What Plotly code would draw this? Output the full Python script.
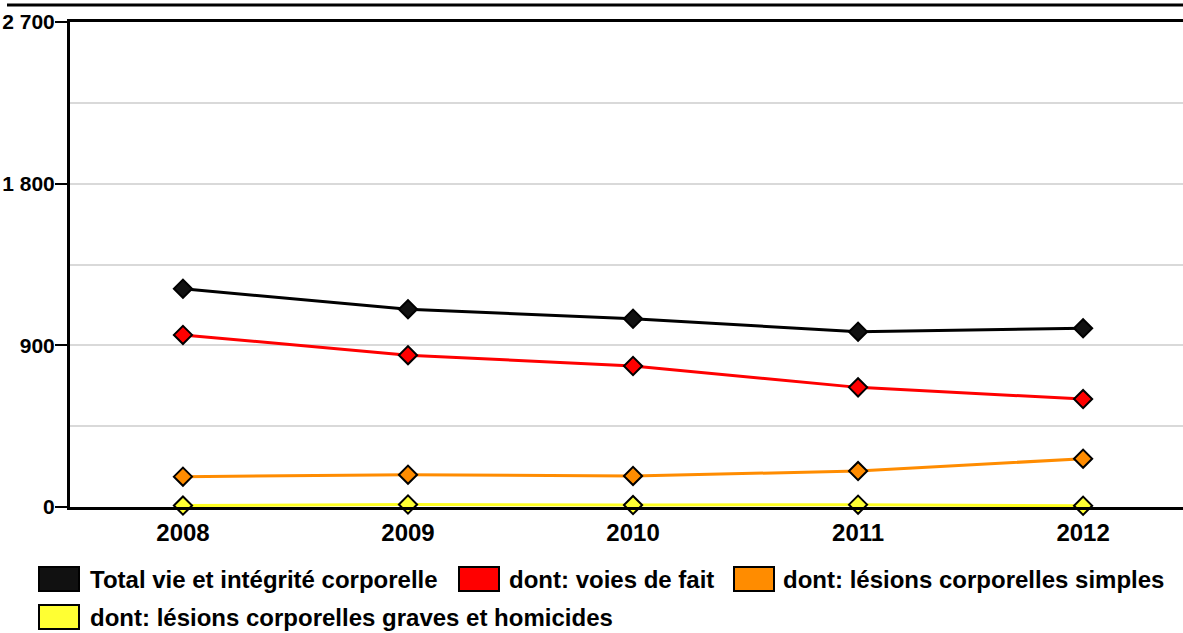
import plotly.graph_objects as go

years = [2008, 2009, 2010, 2011, 2012]
series_names = [
    "Total vie et intégrité corporelle",
    "dont: voies de fait",
    "dont: lésions corporelles simples",
    "dont: lésions corporelles graves et homicides",
]
total = [1215, 1101, 1048, 976, 995]
voies = [958, 845, 785, 666, 601]
simples = [169, 180, 173, 200, 269]
graves = [8, 14, 11, 13, 7]
series_values = [total, voies, simples, graves]
line_colors = ["#000000", "#ff0000", "#ff8c00", "#ffff22"]
marker_colors = ["#111111", "#ff0000", "#ff8c00", "#ffff33"]

y_tickvals = [0, 900, 1800, 2700]
y_ticktext = ["0", "900", "1 800", "2 700"]

W, H = 1183, 633
L, R, T, B = 70, 0, 22, 126
PW, PH = W - L - R, H - T - B

FONT = "Liberation Sans, Arial, sans-serif"

fig = go.Figure()
# draw lowest first so total is on top
for name, vals, lc, mc in reversed(list(zip(series_names, series_values, line_colors, marker_colors))):
    fig.add_trace(go.Scatter(
        x=years, y=vals, name=name, mode="lines+markers",
        line=dict(color=lc, width=3),
        marker=dict(symbol="diamond", size=14, color=mc, line=dict(color="#000000", width=2)),
        cliponaxis=False, showlegend=False,
    ))

fig.update_layout(
    width=W, height=H,
    margin=dict(l=L, r=R, t=T, b=B),
    plot_bgcolor="white", paper_bgcolor="white",
    showlegend=False,
    font=dict(family=FONT, color="black"),
)
fig.update_xaxes(
    range=[2007.498, 2012.444],
    tickvals=years, ticktext=[str(y) for y in years],
    tickfont=dict(size=24, family=FONT, weight="bold"),
    showgrid=False, zeroline=False,
    showline=True, linecolor="black", linewidth=3, mirror=True,
    ticks="", ticklabelstandoff=2, automargin=False,
)
fig.update_yaxes(
    range=[0, 2700],
    tickvals=y_tickvals, ticktext=y_ticktext,
    tickfont=dict(size=21, family=FONT, weight="bold"),
    showgrid=True, gridcolor="#d9d9d9", gridwidth=2,
    minor=dict(dtick=450, tick0=0, showgrid=True, gridcolor="#d9d9d9", gridwidth=2, ticks=""),
    zeroline=False,
    showline=True, linecolor="black", linewidth=3,
    ticks="outside", ticklen=12, tickwidth=2, tickcolor="black",
    ticklabelstandoff=-4, automargin=False,
)

def px_x(x):
    return (x - L) / PW

def px_y(y):
    return (H - B - y) / PH

# top border line
fig.add_shape(type="line", xref="paper", yref="paper",
              x0=px_x(7), x1=1.0, y0=px_y(5), y1=px_y(5),
              line=dict(color="black", width=3))

# custom legend
legend_pos = [(38, 567, 88), (458, 567, 507), (733, 567, 781), (38, 605, 88)]
for (sx, sy, tx), name, mc in zip(legend_pos, series_names, marker_colors):
    fig.add_shape(type="rect", xref="paper", yref="paper",
                  x0=px_x(sx + 1), x1=px_x(sx + 41), y0=px_y(sy), y1=px_y(sy + 24),
                  fillcolor=mc, line=dict(color="black", width=2))
    fig.add_annotation(xref="paper", yref="paper", x=px_x(tx), y=px_y(sy + 12),
                       text=name, showarrow=False, xanchor="left", yanchor="middle",
                       font=dict(size=24, family=FONT, weight="bold", color="black"))

fig.write_html(
    "out.html",
    config={"displayModeBar": False},
    post_script="document.body.style.margin='0';document.body.style.overflow='hidden';",
)
